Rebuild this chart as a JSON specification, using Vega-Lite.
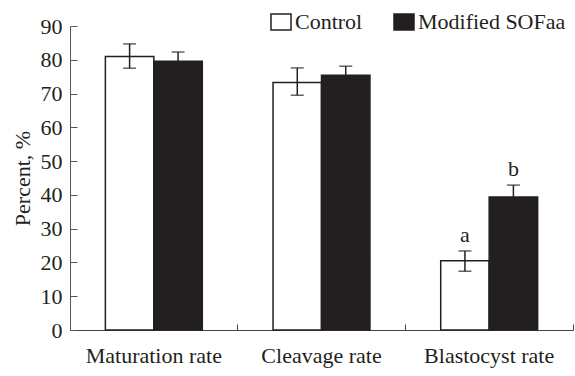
{
  "$schema": "https://vega.github.io/schema/vega-lite/v6.json",
  "autosize": {"type": "none"},
  "width": 503,
  "height": 304,
  "padding": {"left": 70, "top": 26, "right": 2, "bottom": 46},
  "background": "white",
  "config": {
    "view": {"stroke": null},
    "font": "Liberation Serif",
    "text": {"font": "Liberation Serif"},
    "legend": {"labelFont": "Liberation Serif"},
    "axis": {"labelFont": "Liberation Serif", "titleFont": "Liberation Serif", "labelColor": "#231f20", "titleColor": "#231f20", "grid": false}
  },
  "data": {
    "values": [
      {"stage": "Maturation rate", "group": "Control", "value": 81.0, "lo": 77.5, "hi": 84.7, "sig": ""},
      {"stage": "Maturation rate", "group": "Modified SOFaa", "value": 79.6, "lo": 76.9, "hi": 82.3, "sig": ""},
      {"stage": "Cleavage rate", "group": "Control", "value": 73.3, "lo": 69.5, "hi": 77.6, "sig": ""},
      {"stage": "Cleavage rate", "group": "Modified SOFaa", "value": 75.4, "lo": 72.7, "hi": 78.1, "sig": ""},
      {"stage": "Blastocyst rate", "group": "Control", "value": 20.5, "lo": 17.4, "hi": 23.4, "sig": "a"},
      {"stage": "Blastocyst rate", "group": "Modified SOFaa", "value": 39.4, "lo": 36.0, "hi": 42.9, "sig": "b"}
    ]
  },
  "encoding": {
    "x": {
      "field": "stage", "type": "nominal", "sort": null,
      "scale": {"paddingInner": 0, "paddingOuter": 0},
      "axis": {
        "title": null, "labelAngle": 0, "labelFontSize": 22, "labelPadding": 21,
        "tickSize": -6, "tickColor": "#444", "domainColor": "#444", "domainWidth": 1,
        "bandPosition": 1
      }
    },
    "xOffset": {
      "field": "group", "type": "nominal", "sort": null,
      "scale": {"paddingInner": 0, "paddingOuter": 0.73}
    },
    "y": {
      "field": "value", "type": "quantitative",
      "scale": {"domain": [0, 90], "nice": false},
      "axis": {
        "title": "Percent, %", "titleFontSize": 22, "titleFontWeight": "normal", "titlePadding": 6,
        "labelFontSize": 22, "labelPadding": 15, "values": [0,10,20,30,40,50,60,70,80,90],
        "labelOverlap": false, "labelFlush": false,
        "tickSize": -7, "tickColor": "#555", "domainColor": "#555", "domainWidth": 1
      }
    }
  },
  "layer": [
    {
      "mark": {"type": "bar", "stroke": "#231f20", "strokeWidth": 1.5},
      "encoding": {
        "fill": {
          "field": "group", "type": "nominal", "sort": null,
          "scale": {"domain": ["Control", "Modified SOFaa"], "range": ["white", "#231f20"]},
          "legend": {
            "title": null, "orient": "none", "direction": "horizontal",
            "legendX": 200, "legendY": -15,
            "symbolType": "M-1,-0.8H1V0.8H-1Z", "symbolSize": 400,
            "symbolStrokeColor": "#231f20", "symbolStrokeWidth": 1.5,
            "labelFont": "Liberation Serif", "labelFontSize": 22, "labelColor": "#231f20",
            "labelOffset": 3, "columnPadding": 28
          }
        }
      }
    },
    {
      "mark": {"type": "rule", "color": "#231f20", "strokeWidth": 1.5},
      "encoding": {
        "y": {"field": "lo", "type": "quantitative"},
        "y2": {"field": "hi"}
      }
    },
    {
      "mark": {"type": "tick", "color": "#231f20", "thickness": 1.5, "size": 13},
      "encoding": {"y": {"field": "hi", "type": "quantitative"}}
    },
    {
      "mark": {"type": "tick", "color": "#231f20", "thickness": 1.5, "size": 13},
      "encoding": {"y": {"field": "lo", "type": "quantitative"}}
    },
    {
      "mark": {"type": "text", "dy": -16, "fontSize": 22, "font": "Liberation Serif", "color": "#231f20"},
      "encoding": {
        "y": {"field": "hi", "type": "quantitative"},
        "text": {"field": "sig"}
      }
    }
  ]
}
